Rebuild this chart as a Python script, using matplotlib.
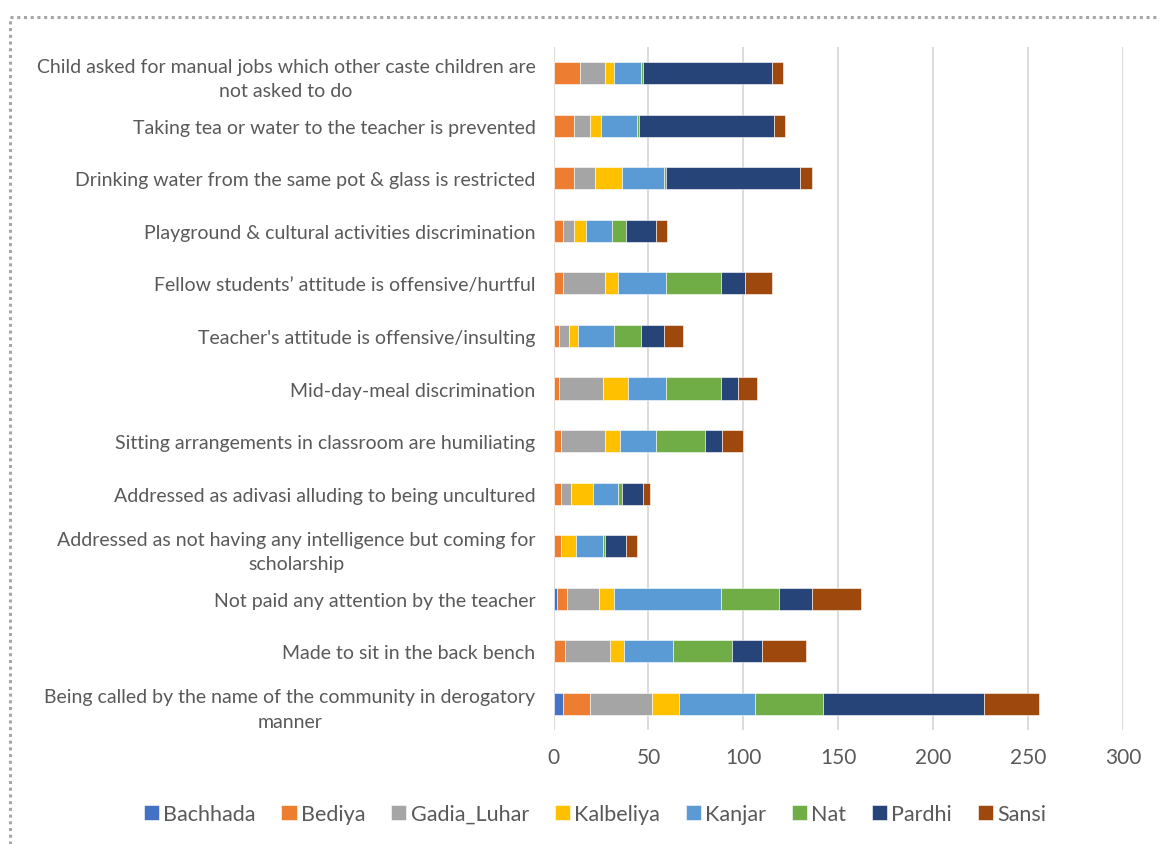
import numpy as np
import matplotlib.pyplot as plt
from matplotlib.lines import Line2D

plt.rcParams['font.family'] = ['Lato', 'DejaVu Sans']

# categories, top to bottom as in the chart
categories = [
    "Child asked for manual jobs which other caste children are\nnot asked to do",
    "Taking tea or water to the teacher is prevented",
    "Drinking water from the same pot & glass is restricted",
    "Playground & cultural activities discrimination",
    "Fellow students\u2019 attitude is offensive/hurtful",
    "Teacher's attitude is offensive/insulting",
    "Mid-day-meal discrimination",
    "Sitting arrangements in classroom are humiliating",
    "Addressed as adivasi alluding to being uncultured",
    "Addressed as not having any intelligence but coming for\nscholarship",
    "Not paid any attention by the teacher",
    "Made to sit in the back bench",
    "Being called by the name of the community in derogatory\nmanner",
]

communities = ["Bachhada", "Bediya", "Gadia_Luhar", "Kalbeliya", "Kanjar", "Nat", "Pardhi", "Sansi"]
colors = ["#4472C4", "#ED7D31", "#A5A5A5", "#FFC000", "#5B9BD5", "#70AD47", "#264478", "#9E480E"]

bachhada = [0, 0, 0, 0, 0, 0, 0, 0, 0, 0, 2, 0, 5]
bediya = [14, 11, 11, 5, 5, 3, 3, 4, 4, 4, 5, 6, 14]
gadia_luhar = [13, 8, 11, 6, 22, 5, 23, 23, 5, 0, 17, 24, 33]
kalbeliya = [5, 6, 14, 6, 7, 5, 13, 8, 12, 8, 8, 7, 14]
kanjar = [14, 19, 22, 14, 25, 19, 20, 19, 13, 14, 56, 26, 40]
nat = [1, 1, 1, 7, 29, 14, 29, 26, 2, 1, 31, 31, 36]
pardhi = [68, 71, 71, 16, 13, 12, 9, 9, 11, 11, 17, 16, 85]
sansi = [6, 6, 6, 6, 14, 10, 10, 11, 4, 6, 26, 23, 29]

series = [bachhada, bediya, gadia_luhar, kalbeliya, kanjar, nat, pardhi, sansi]
xticks = [0, 50, 100, 150, 200, 250, 300]

fig = plt.figure(figsize=(11.6, 8.45), dpi=100)
ax = fig.add_axes([0.4772, 0.1349, 0.4909, 0.8083])

y = np.arange(len(categories))
left = np.zeros(len(categories))
for name, vals, c in zip(communities, series, colors):
    vals = np.array(vals, dtype=float)
    ax.barh(y, vals, left=left, height=0.42, color=c, label=name,
            edgecolor='white', linewidth=0.4, zorder=3)
    left += vals

ax.set_ylim(len(categories) - 0.5, -0.5)
ax.set_xlim(0, 300)
ax.set_xticks(xticks)
ax.set_yticks(y)
ax.set_yticklabels(categories, fontsize=14, color='#595959', linespacing=1.55)
for lab in ax.get_yticklabels():
    lab.set_multialignment('center')
ax.tick_params(axis='y', length=0, pad=13)
ax.tick_params(axis='x', length=0, labelsize=15, labelcolor='#595959', pad=12)
ax.grid(axis='x', color='#D9D9D9', linewidth=1.3, zorder=0)
for s in ax.spines.values():
    s.set_visible(False)

fig.legend(loc='center', bbox_to_anchor=(0.513, 0.036), ncol=8, frameon=False,
           fontsize=15.5, handlelength=0.7, handleheight=0.7, handletextpad=0.2,
           columnspacing=1.2, labelcolor='#595959')

# dotted chart-area border (top and left edges)
fig.add_artist(Line2D([10 / 1160, 1.0], [1 - 18 / 845, 1 - 18 / 845],
                      color='#A6A6A6', linestyle=(0, (1, 1.2)), linewidth=2.2))
fig.add_artist(Line2D([10 / 1160, 10 / 1160], [0.0, 1 - 18 / 845],
                      color='#A6A6A6', linestyle=(0, (1, 1.2)), linewidth=2.2))

fig.savefig('out.png', dpi=100)
